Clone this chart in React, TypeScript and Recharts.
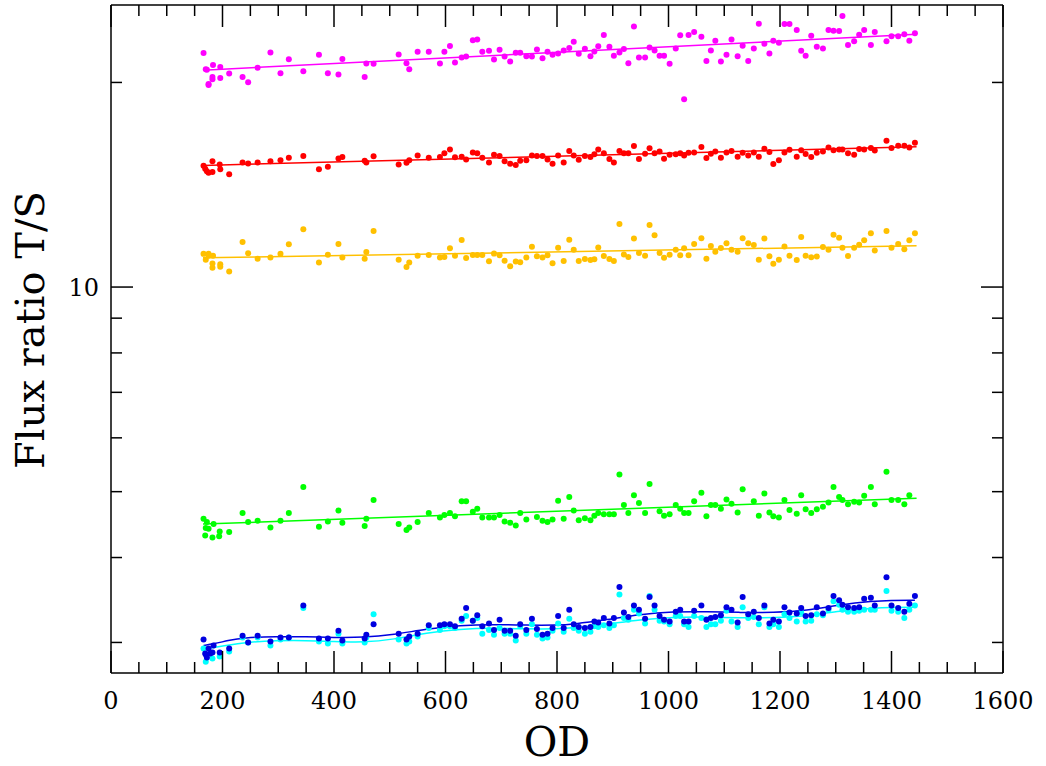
import React from 'react';
import { ComposedChart, XAxis, YAxis, Scatter, Line } from 'recharts';

type Pt = [number, number];

// OD vs flux ratio T/S, one list per colour
const MAGENTA_PTS: Pt[] = [
  [166, 22.09], [170, 20.92], [172, 20.88], [175, 19.89], [175, 19.82], [182, 20.22], [182, 20.38], [183, 21.21],
  [196, 21.07], [196, 20.31], [212, 20.62], [236, 20.38], [246, 20.02], [263, 21.02], [286, 22.14], [304, 20.64],
  [319, 21.64], [345, 20.78], [373, 21.96], [389, 20.64], [408, 20.55], [415, 21.66], [455, 20.38], [458, 21.33],
  [471, 21.3], [516, 21.99], [530, 21.35], [535, 20.92], [550, 22.19], [570, 22.19], [590, 21.33], [598, 22.19],
  [608, 22.62], [617, 21.4], [629, 21.76], [637, 21.84], [649, 23.07], [657, 23.14], [666, 22.19], [678, 22.27],
  [687, 21.61], [697, 22.34], [706, 21.84], [716, 21.47], [726, 22.11], [734, 22.11], [745, 21.86], [755, 21.84],
  [764, 22.37], [774, 21.71], [783, 22.19], [792, 21.96], [802, 22.06], [812, 22.29], [822, 22.47], [830, 22.96],
  [839, 22.04], [850, 22.42], [860, 21.86], [867, 22.21], [874, 22.6], [884, 23.49], [894, 22.57], [902, 21.89],
  [912, 22.14], [920, 22.39], [928, 21.35], [938, 24.18], [947, 21.76], [958, 21.76], [966, 22.52], [975, 22.29],
  [984, 21.89], [992, 21.89], [1002, 21.3], [1013, 22.44], [1021, 23.46], [1028, 18.9], [1036, 23.49], [1046, 23.73],
  [1059, 23.35], [1068, 21.5], [1076, 22.29], [1084, 23.04], [1094, 21.47], [1104, 21.96], [1113, 23.14], [1124, 21.86],
  [1133, 22.65], [1143, 21.5], [1153, 22.44], [1162, 24.41], [1172, 22.8], [1181, 22.06], [1188, 23.04], [1198, 22.88],
  [1208, 24.38], [1217, 24.38], [1230, 23.88], [1238, 22.27], [1246, 21.89], [1256, 23.43], [1266, 22.57], [1277, 22.44],
  [1287, 23.88], [1296, 23.83], [1306, 23.8], [1312, 25.05], [1322, 22.7], [1333, 22.99], [1342, 23.51], [1351, 23.88],
  [1363, 22.7], [1370, 23.73], [1391, 22.99], [1400, 23.38], [1412, 23.38], [1423, 23.54], [1432, 23.04], [1442, 23.62],
];

const RED_PTS: Pt[] = [
  [166, 15.08], [169, 14.93], [172, 14.8], [175, 14.73], [182, 15.31], [182, 14.77], [195, 15.14], [196, 14.9],
  [212, 14.65], [236, 15.25], [246, 15.2], [263, 15.25], [286, 15.32], [304, 15.36], [319, 15.5], [345, 15.59],
  [373, 14.91], [389, 15.03], [408, 15.46], [415, 15.53], [455, 15.34], [458, 15.25], [471, 15.57], [516, 15.15],
  [530, 15.24], [535, 15.36], [550, 15.62], [570, 15.5], [590, 15.53], [598, 15.73], [608, 15.94], [617, 15.52],
  [629, 15.55], [637, 15.41], [649, 15.78], [657, 15.73], [666, 15.5], [678, 15.25], [687, 15.66], [697, 15.59],
  [706, 15.32], [716, 15.19], [726, 15.12], [734, 15.34], [745, 15.37], [755, 15.62], [764, 15.59], [774, 15.59],
  [783, 15.41], [792, 15.19], [802, 15.62], [812, 15.25], [822, 15.86], [830, 15.62], [839, 15.39], [850, 15.59],
  [860, 15.53], [867, 15.68], [874, 15.94], [884, 15.74], [894, 15.43], [902, 15.25], [912, 15.85], [920, 15.74],
  [928, 15.74], [938, 16.12], [947, 15.43], [958, 15.71], [966, 16.0], [975, 15.74], [984, 15.83], [992, 15.45],
  [1002, 15.66], [1013, 15.68], [1021, 15.73], [1028, 15.61], [1036, 15.76], [1046, 15.78], [1059, 16.07], [1068, 15.48],
  [1076, 15.71], [1084, 15.83], [1094, 15.5], [1104, 15.78], [1113, 15.85], [1124, 15.55], [1133, 15.76], [1143, 15.62],
  [1153, 15.78], [1162, 15.55], [1172, 15.98], [1181, 15.8], [1188, 15.17], [1198, 15.37], [1208, 15.78], [1217, 15.92],
  [1230, 15.55], [1238, 15.89], [1246, 15.69], [1256, 15.53], [1266, 15.76], [1277, 15.83], [1287, 16.05], [1296, 15.89],
  [1306, 15.94], [1312, 15.94], [1322, 15.73], [1333, 15.66], [1342, 15.96], [1351, 15.94], [1363, 16.02], [1370, 15.88],
  [1391, 16.42], [1400, 16.02], [1412, 16.14], [1423, 16.14], [1432, 16.05], [1442, 16.31],
];

const ORANGE_PTS: Pt[] = [
  [166, 11.19], [170, 10.97], [175, 11.19], [175, 11.12], [182, 10.83], [182, 10.68], [183, 11.12], [196, 10.8],
  [196, 10.71], [212, 10.54], [236, 11.65], [246, 11.21], [263, 11.01], [286, 11.05], [304, 11.19], [319, 11.56],
  [345, 12.16], [373, 10.87], [389, 11.16], [408, 11.57], [415, 11.05], [455, 11.01], [458, 11.26], [471, 12.09],
  [516, 10.97], [530, 10.7], [535, 10.87], [550, 11.12], [570, 11.15], [590, 11.05], [598, 11.07], [608, 11.4],
  [617, 11.12], [629, 11.73], [637, 11.03], [649, 11.15], [657, 11.15], [666, 11.15], [678, 10.91], [687, 11.2],
  [697, 11.14], [706, 10.93], [716, 10.73], [726, 10.9], [734, 10.88], [745, 11.05], [755, 11.46], [764, 11.1],
  [774, 11.05], [783, 11.14], [792, 10.84], [802, 11.42], [812, 10.92], [822, 11.74], [830, 11.35], [839, 10.92],
  [850, 11.0], [860, 10.96], [867, 10.99], [874, 11.43], [884, 11.11], [894, 11.0], [902, 10.92], [912, 12.38],
  [920, 11.17], [928, 11.07], [938, 11.79], [947, 11.22], [958, 11.12], [966, 12.34], [975, 11.92], [984, 11.22],
  [992, 11.04], [1002, 11.16], [1013, 11.35], [1021, 11.14], [1028, 11.4], [1036, 11.14], [1046, 11.57], [1059, 11.8],
  [1068, 11.01], [1076, 11.49], [1084, 11.27], [1094, 11.41], [1104, 11.6], [1113, 11.35], [1124, 11.27], [1133, 11.8],
  [1143, 11.6], [1153, 11.53], [1162, 10.97], [1172, 11.79], [1181, 11.1], [1188, 10.82], [1198, 10.97], [1208, 11.47],
  [1217, 11.12], [1230, 10.96], [1238, 11.85], [1246, 11.12], [1256, 11.06], [1266, 11.09], [1277, 11.45], [1287, 11.35],
  [1296, 11.94], [1306, 11.82], [1312, 11.42], [1322, 11.11], [1333, 11.42], [1342, 11.54], [1351, 11.72], [1363, 12.0],
  [1370, 11.32], [1391, 12.09], [1400, 11.42], [1412, 11.57], [1423, 11.37], [1432, 11.72], [1442, 12.0],
];

const GREEN_PTS: Pt[] = [
  [166, 4.56], [170, 4.42], [172, 4.51], [175, 4.41], [169, 4.31], [182, 4.28], [184, 4.48], [195, 4.37],
  [194, 4.3], [212, 4.36], [236, 4.65], [246, 4.51], [263, 4.53], [286, 4.43], [304, 4.53], [319, 4.65],
  [345, 5.08], [373, 4.44], [389, 4.52], [408, 4.69], [415, 4.5], [455, 4.45], [458, 4.56], [471, 4.86],
  [516, 4.48], [530, 4.39], [535, 4.43], [550, 4.51], [570, 4.65], [590, 4.58], [598, 4.62], [608, 4.65],
  [617, 4.6], [629, 4.84], [637, 4.84], [649, 4.67], [657, 4.72], [666, 4.58], [678, 4.58], [687, 4.58],
  [697, 4.62], [706, 4.52], [716, 4.5], [726, 4.46], [734, 4.65], [745, 4.55], [764, 4.59], [774, 4.53],
  [783, 4.51], [792, 4.55], [802, 4.85], [812, 4.56], [822, 4.91], [830, 4.69], [839, 4.54], [850, 4.57],
  [860, 4.54], [867, 4.61], [874, 4.65], [884, 4.63], [894, 4.63], [902, 4.63], [912, 5.3], [920, 4.78],
  [928, 4.65], [938, 4.94], [947, 4.81], [958, 4.65], [966, 5.13], [984, 4.68], [992, 4.61], [1002, 4.63],
  [1013, 4.78], [1021, 4.72], [1028, 4.65], [1036, 4.65], [1046, 4.84], [1059, 4.98], [1068, 4.6], [1076, 4.78],
  [1084, 4.78], [1094, 4.72], [1104, 4.87], [1113, 4.8], [1124, 4.66], [1133, 5.04], [1153, 4.84], [1162, 4.61],
  [1172, 4.97], [1181, 4.66], [1188, 4.6], [1198, 4.58], [1208, 4.86], [1217, 4.7], [1230, 4.64], [1238, 4.94],
  [1246, 4.71], [1256, 4.65], [1266, 4.71], [1277, 4.75], [1287, 4.82], [1296, 5.08], [1306, 4.91], [1312, 4.86],
  [1322, 4.79], [1333, 4.83], [1342, 4.82], [1351, 4.93], [1363, 5.08], [1370, 4.79], [1391, 5.35], [1400, 4.86],
  [1412, 4.86], [1423, 4.79], [1432, 4.94],
];

const BLUE_PTS: Pt[] = [
  [166, 3.03], [170, 2.88], [172, 2.85], [169, 2.89], [175, 2.94], [178, 2.89], [182, 2.9], [184, 2.97],
  [195, 2.9], [212, 2.94], [236, 3.07], [246, 3.0], [263, 3.07], [286, 3.01], [304, 3.05], [319, 3.05],
  [345, 3.4], [373, 3.04], [389, 3.04], [408, 3.12], [415, 3.02], [455, 3.04], [458, 3.08], [471, 3.19],
  [516, 3.09], [530, 3.03], [535, 3.06], [550, 3.09], [570, 3.18], [590, 3.18], [598, 3.19], [608, 3.19],
  [617, 3.17], [629, 3.25], [637, 3.37], [649, 3.23], [657, 3.29], [666, 3.17], [678, 3.2], [687, 3.13],
  [697, 3.24], [706, 3.12], [716, 3.12], [726, 3.07], [734, 3.19], [745, 3.13], [755, 3.25], [764, 3.14],
  [774, 3.08], [783, 3.09], [792, 3.15], [802, 3.28], [812, 3.15], [822, 3.35], [830, 3.19], [839, 3.16],
  [850, 3.15], [860, 3.16], [867, 3.22], [874, 3.21], [884, 3.26], [894, 3.2], [902, 3.26], [912, 3.62],
  [920, 3.32], [928, 3.27], [938, 3.4], [947, 3.35], [958, 3.25], [966, 3.5], [975, 3.4], [984, 3.28],
  [992, 3.24], [1002, 3.22], [1013, 3.33], [1021, 3.35], [1028, 3.22], [1036, 3.22], [1046, 3.34], [1059, 3.4],
  [1068, 3.24], [1076, 3.26], [1084, 3.27], [1094, 3.29], [1104, 3.38], [1113, 3.35], [1124, 3.21], [1133, 3.5],
  [1143, 3.3], [1153, 3.33], [1162, 3.26], [1172, 3.4], [1181, 3.2], [1188, 3.24], [1198, 3.22], [1208, 3.38],
  [1217, 3.32], [1230, 3.31], [1238, 3.37], [1246, 3.28], [1256, 3.29], [1266, 3.38], [1277, 3.31], [1287, 3.37],
  [1296, 3.51], [1306, 3.46], [1312, 3.41], [1322, 3.38], [1333, 3.37], [1342, 3.38], [1351, 3.48], [1363, 3.49],
  [1370, 3.4], [1391, 3.74], [1400, 3.4], [1412, 3.37], [1423, 3.33], [1432, 3.42], [1442, 3.51],
];

const CYAN_PTS: Pt[] = [
  [166, 2.94], [170, 2.81], [182, 2.84], [195, 2.86], [212, 2.91], [236, 3.05], [246, 3.0], [263, 3.05],
  [286, 2.97], [304, 3.03], [319, 3.05], [345, 3.37], [373, 3.01], [389, 2.99], [408, 3.09], [415, 2.99],
  [455, 3.0], [458, 3.05], [471, 3.3], [516, 3.03], [530, 2.99], [535, 3.01], [550, 3.06], [570, 3.15],
  [590, 3.13], [598, 3.17], [608, 3.17], [617, 3.15], [629, 3.23], [637, 3.28], [649, 3.23], [657, 3.26],
  [666, 3.09], [678, 3.13], [687, 3.08], [697, 3.15], [706, 3.09], [716, 3.09], [726, 3.02], [734, 3.17],
  [745, 3.09], [755, 3.19], [764, 3.08], [774, 3.04], [783, 3.05], [792, 3.12], [802, 3.2], [812, 3.11],
  [822, 3.25], [830, 3.15], [839, 3.12], [850, 3.09], [860, 3.11], [867, 3.17], [874, 3.16], [884, 3.18],
  [894, 3.15], [902, 3.18], [912, 3.53], [920, 3.26], [928, 3.24], [938, 3.35], [947, 3.31], [958, 3.2],
  [966, 3.51], [975, 3.35], [984, 3.23], [992, 3.22], [1002, 3.19], [1013, 3.28], [1021, 3.28], [1028, 3.19],
  [1036, 3.16], [1046, 3.28], [1059, 3.26], [1068, 3.16], [1076, 3.19], [1084, 3.19], [1094, 3.23], [1104, 3.34],
  [1113, 3.22], [1124, 3.16], [1133, 3.38], [1143, 3.26], [1153, 3.27], [1162, 3.19], [1172, 3.38], [1181, 3.16],
  [1188, 3.19], [1198, 3.16], [1208, 3.3], [1217, 3.26], [1230, 3.22], [1238, 3.32], [1246, 3.22], [1256, 3.23],
  [1266, 3.3], [1277, 3.29], [1287, 3.35], [1296, 3.45], [1306, 3.41], [1312, 3.35], [1322, 3.33], [1333, 3.33],
  [1342, 3.34], [1351, 3.35], [1363, 3.35], [1370, 3.35], [1391, 3.57], [1400, 3.34], [1412, 3.33], [1423, 3.26],
  [1432, 3.35], [1442, 3.4],
];

// fitted trends
const MAGENTA_FIT: Pt[] = [[165, 20.85], [1445, 23.55]];
const RED_FIT: Pt[] = [[165, 15.1], [1445, 16.08]];
const ORANGE_FIT: Pt[] = [[165, 11.04], [1445, 11.5]];
const GREEN_FIT: Pt[] = [[165, 4.48], [1445, 4.89]];
const BLUE_FIT: Pt[] = [
  [166, 2.97], [184, 2.985], [210, 3.02], [237, 3.05], [297, 3.06], [350, 3.06], [399, 3.05], [453, 3.05],
  [507, 3.08], [566, 3.14], [626, 3.18], [686, 3.19], [746, 3.18], [800, 3.18], [829, 3.19], [889, 3.24],
  [949, 3.3], [1009, 3.33], [1068, 3.33], [1128, 3.32], [1188, 3.32], [1248, 3.34], [1308, 3.41], [1367, 3.45],
  [1397, 3.46], [1442, 3.46],
];
const CYAN_FIT: Pt[] = [
  [166, 2.93], [184, 2.95], [237, 3.0], [297, 3.02], [350, 3.02], [399, 3.01], [453, 3.0], [507, 3.03],
  [566, 3.1], [626, 3.14], [686, 3.15], [746, 3.14], [800, 3.14], [829, 3.15], [889, 3.19], [949, 3.24],
  [1009, 3.27], [1068, 3.27], [1128, 3.26], [1188, 3.26], [1248, 3.28], [1308, 3.34], [1367, 3.37], [1397, 3.38],
  [1442, 3.38],
];

const X_TICKS = [
  0, 50, 100, 150, 200, 250, 300, 350, 400, 450, 500, 550, 600, 650, 700, 750, 800,
  850, 900, 950, 1000, 1050, 1100, 1150, 1200, 1250, 1300, 1350, 1400, 1450, 1500, 1550, 1600,
];
const X_LABELS = [0, 200, 400, 600, 800, 1000, 1200, 1400, 1600];
const Y_TICKS = [3, 4, 5, 6, 7, 8, 9, 10, 20];
const Y_LABELS = [10];

const FONT = 'DejaVu Serif, serif';
const W = 1046;
const H = 766;

const toXY = (pts: Pt[]) => pts.map(([x, y]) => ({ x, y }));

const dot = (color: string) => (p: any) => <circle cx={p.cx} cy={p.cy} r={3} fill={color} />;

function makeXTick(side: 'bottom' | 'top') {
  return (props: any) => {
    const { x, y, payload } = props;
    const major = X_LABELS.includes(payload.value);
    const len = major ? 22 : 11;
    const dir = side === 'bottom' ? -1 : 1;
    return (
      <g>
        <line x1={x} x2={x} y1={y} y2={y + dir * len} stroke="#000" strokeWidth={1.5} />
        {side === 'bottom' && major && (
          <text x={x} y={y + 36} textAnchor="middle" fontSize={24} fontFamily={FONT} fill="#000">
            {payload.value}
          </text>
        )}
      </g>
    );
  };
}

function makeYTick(side: 'left' | 'right') {
  return (props: any) => {
    const { x, y, payload } = props;
    const major = Y_LABELS.includes(payload.value);
    const len = major ? 22 : 11;
    const dir = side === 'left' ? 1 : -1;
    return (
      <g>
        <line x1={x} x2={x + dir * len} y1={y} y2={y} stroke="#000" strokeWidth={1.5} />
        {side === 'left' && major && (
          <text x={x - 12} y={y + 9} textAnchor="end" fontSize={24} fontFamily={FONT} fill="#000">
            {payload.value}
          </text>
        )}
      </g>
    );
  };
}

const SERIES = [
  { pts: MAGENTA_PTS, fit: MAGENTA_FIT, color: '#ff00ff', curve: 'linear' },
  { pts: RED_PTS, fit: RED_FIT, color: '#ff0000', curve: 'linear' },
  { pts: ORANGE_PTS, fit: ORANGE_FIT, color: '#ffc000', curve: 'linear' },
  { pts: GREEN_PTS, fit: GREEN_FIT, color: '#00ff00', curve: 'linear' },
  { pts: CYAN_PTS, fit: CYAN_FIT, color: '#00ffff', curve: 'basis' },
  { pts: BLUE_PTS, fit: BLUE_FIT, color: '#0000e0', curve: 'basis' },
];

export default function App() {
  const axisLine = { stroke: '#000', strokeWidth: 1.5 };
  return (
    <div style={{ position: 'absolute', left: 0, top: 0, width: W, height: H, background: '#fff' }}>
      <ComposedChart width={W} height={H} margin={{ top: 4, left: 110, right: 42, bottom: 92 }}>
        <XAxis
          xAxisId="b" type="number" dataKey="x" domain={[0, 1600]} allowDataOverflow
          ticks={X_TICKS} interval={0} height={1} tickSize={0} tickMargin={0} tickLine={false}
          axisLine={axisLine} tick={makeXTick('bottom')}
        />
        <XAxis
          xAxisId="t" orientation="top" type="number" dataKey="x" domain={[0, 1600]} allowDataOverflow
          ticks={X_TICKS} interval={0} height={1} tickSize={0} tickMargin={0} tickLine={false}
          axisLine={axisLine} tick={makeXTick('top')}
        />
        <YAxis
          yAxisId="l" type="number" dataKey="y" scale="log" domain={[2.705, 26]} allowDataOverflow
          ticks={Y_TICKS} interval={0} width={1} tickSize={0} tickMargin={0} tickLine={false}
          axisLine={axisLine} tick={makeYTick('left')}
        />
        <YAxis
          yAxisId="r" orientation="right" type="number" dataKey="y" scale="log" domain={[2.705, 26]} allowDataOverflow
          ticks={Y_TICKS} interval={0} width={1} tickSize={0} tickMargin={0} tickLine={false}
          axisLine={axisLine} tick={makeYTick('right')}
        />
        {SERIES.map((s, i) => (
          <Scatter
            key={'s' + i} xAxisId="b" yAxisId="l" data={toXY(s.pts)}
            fill={s.color} shape={dot(s.color)} isAnimationActive={false}
          />
        ))}
        {SERIES.map((s, i) => (
          <Line
            key={'l' + i} xAxisId="b" yAxisId="l" data={toXY(s.fit)} dataKey="y"
            type={s.curve as any} stroke={s.color} strokeWidth={1.5} dot={false} activeDot={false}
            isAnimationActive={false}
          />
        ))}
        <text x={557} y={756} textAnchor="middle" fontSize={41} fontFamily={FONT} fill="#000">OD</text>
        <text
          x={44} y={330} textAnchor="middle" fontSize={40} fontFamily={FONT} fill="#000"
          transform="rotate(-90, 44, 330)"
        >
          Flux ratio T/S
        </text>
      </ComposedChart>
    </div>
  );
}
